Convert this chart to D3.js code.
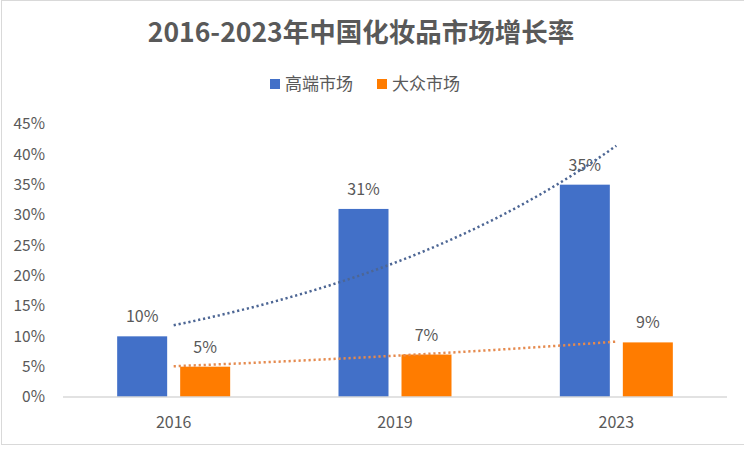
<!DOCTYPE html>
<html>
<head>
<meta charset="utf-8">
<script src="https://d3js.org/d3.v7.min.js"></script>
<style>
  body { margin: 0; background: #fff; }
  text { font-family: "Noto Sans CJK SC", "Noto Sans", sans-serif; fill: #595959; }
</style>
</head>
<body>
<script>
// data
var years = ["2016", "2019", "2023"];
var seriesNames = ["高端市场", "大众市场"];
var highEnd = [10, 31, 35];
var mass = [5, 7, 9];
var yTicks = [0, 5, 10, 15, 20, 25, 30, 35, 40, 45];
var colors = ["#4270C8", "#FF7C00"];
var trendColors = ["#4D6694", "#E58A4E"];

var w = 744, h = 451;
var plotLeft = 63, plotRight = 727, plotTop = 124, plotBottom = 397;

var svg = d3.select("body").append("svg")
  .attr("width", w).attr("height", h);

// chart border
svg.append("rect")
  .attr("x", 1.5).attr("y", 0.5).attr("width", 800).attr("height", 444)
  .attr("fill", "none").attr("stroke", "#d9d9d9");

var x = d3.scaleBand().domain(years).range([plotLeft, plotRight]);
var y = d3.scaleLinear().domain([0, 45]).range([plotBottom, plotTop]);

// title
svg.append("text")
  .attr("x", 361).attr("y", 42)
  .attr("text-anchor", "middle")
  .style("font-size", "26.5px").style("font-weight", "bold")
  .text("2016-2023年中国化妆品市场增长率");

// legend
var legX = [270, 377];
seriesNames.forEach(function(name, i) {
  svg.append("rect").attr("x", legX[i]).attr("y", 79)
    .attr("width", 10).attr("height", 10).attr("fill", colors[i]);
  svg.append("text").attr("x", legX[i] + 15).attr("y", 90)
    .style("font-size", "17px").text(name);
});

// y axis labels
svg.selectAll(".ytick").data(yTicks).enter().append("text")
  .attr("class", "ytick")
  .attr("x", 45).attr("y", function(d) { return y(d); })
  .attr("dy", "0.35em").attr("text-anchor", "end")
  .style("font-size", "15.5px")
  .text(function(d) { return d + "%"; });

// bars
var barW = 50, gap = 13;
var series = [highEnd, mass];
series.forEach(function(vals, s) {
  var off = s === 0 ? -(gap / 2 + barW) : gap / 2;
  svg.selectAll(".bar" + s).data(vals).enter().append("rect")
    .attr("x", function(d, i) { return x(years[i]) + x.bandwidth() / 2 + off; })
    .attr("y", function(d) { return y(d); })
    .attr("width", barW)
    .attr("height", function(d) { return plotBottom - y(d); })
    .attr("fill", colors[s]);
  svg.selectAll(".lab" + s).data(vals).enter().append("text")
    .attr("x", function(d, i) { return x(years[i]) + x.bandwidth() / 2 + off + barW / 2; })
    .attr("y", function(d) { return y(d) - 14; })
    .attr("text-anchor", "middle")
    .style("font-size", "16px")
    .text(function(d) { return d + "%"; });
});

// x axis
svg.append("line").attr("x1", plotLeft).attr("x2", plotRight)
  .attr("y1", plotBottom).attr("y2", plotBottom)
  .attr("stroke", "#d9d9d9").attr("stroke-width", 1.5);
svg.selectAll(".xlab").data(years).enter().append("text")
  .attr("x", function(d) { return x(d) + x.bandwidth() / 2; })
  .attr("y", 428).attr("text-anchor", "middle")
  .style("font-size", "16px")
  .text(function(d) { return d; });

// exponential trend lines (least squares fit on ln values, x = 1..n)
function expFit(vals) {
  var xs = vals.map(function(d, i) { return i + 1; });
  var ly = vals.map(Math.log);
  var mx = d3.mean(xs), my = d3.mean(ly);
  var num = d3.sum(xs, function(v, i) { return (v - mx) * (ly[i] - my); });
  var den = d3.sum(xs, function(v) { return (v - mx) * (v - mx); });
  var b = num / den, a = my - b * mx;
  return function(t) { return Math.exp(a + b * t); };
}
var xt = d3.scaleLinear().domain([1, years.length])
  .range([x(years[0]) + x.bandwidth() / 2, x(years[years.length - 1]) + x.bandwidth() / 2]);
series.forEach(function(vals, s) {
  var f = expFit(vals);
  var pts = d3.range(1, years.length + 0.001, 0.05);
  svg.append("path")
    .datum(pts)
    .attr("d", d3.line().x(function(t) { return xt(t); }).y(function(t) { return y(f(t)); }))
    .attr("fill", "none")
    .attr("stroke", trendColors[s])
    .attr("stroke-width", 2.5)
    .attr("stroke-dasharray", "2.2,2.8");
});
</script>
</body>
</html>
